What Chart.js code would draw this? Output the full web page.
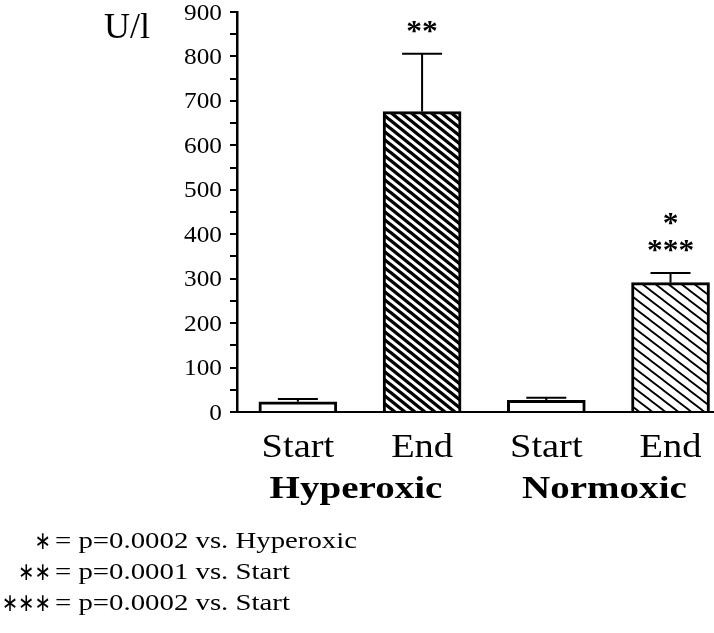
<!DOCTYPE html>
<html>
<head>
<meta charset="utf-8">
<script src="https://cdn.jsdelivr.net/npm/chart.js@4"></script>
<style>
  body { margin: 0; background: #fff; }
  canvas { display: block; }
</style>
</head>
<body>
<canvas id="grafico" width="714" height="633"></canvas>
<script>
// data
const categorias = ['Start', 'End', 'Start', 'End'];
const grupos = ['Hyperoxic', 'Normoxic'];
const medias = [23, 676, 26, 291];
const erros = [6, 130, 6, 22];
const estrelasBaixo = ['', '**', '', '***'];
const estrelasCima = ['', '', '', '*'];
const yTicks = [0, 100, 200, 300, 400, 500, 600, 700, 800, 900];
const notaMarcas = ['\u2217', '\u2217\u2217', '\u2217\u2217\u2217'];
const notaTextos = ['= p=0.0002 vs. Hyperoxic', '= p=0.0001 vs. Start', '= p=0.0002 vs. Start'];

const SERIF = '"Liberation Serif", "Times New Roman", serif';

// diagonal stripes, top-left to bottom-right
function hachura(w, h, largura) {
    const c = document.createElement('canvas');
    c.width = w; c.height = h;
    const g = c.getContext('2d');
    g.fillStyle = '#fff';
    g.fillRect(0, 0, w, h);
    g.strokeStyle = '#000';
    g.lineWidth = largura;
    g.beginPath();
    for (let k = -1; k <= 1; k++) {
        g.moveTo(k * w - w, -h);
        g.lineTo(k * w + 2 * w, 2 * h);
    }
    g.stroke();
    return g.createPattern(c, 'repeat');
}

const ctx = document.getElementById('grafico').getContext('2d');
const fundos = ['#fff', hachura(10, 8, 3.3), '#fff', hachura(13, 10, 1.8)];

function texto(c, s, x, y, fonte, alinhar, sx) {
    c.save();
    c.font = fonte;
    c.fillStyle = '#000';
    c.textBaseline = 'alphabetic';
    c.textAlign = alinhar;
    c.translate(x, y);
    c.scale(sx, 1);
    c.fillText(s, 0, 0);
    c.restore();
}

const extras = {
    id: 'extras',
    afterDatasetsDraw(chart) {
        const c = chart.ctx;
        const ys = chart.scales.y;
        const barras = chart.getDatasetMeta(0).data;
        c.save();
        c.strokeStyle = '#000';
        c.lineWidth = 2;
        barras.forEach((b, i) => {
            const topo = ys.getPixelForValue(medias[i] + erros[i]);
            c.beginPath();
            c.moveTo(b.x, b.y);
            c.lineTo(b.x, topo);
            c.moveTo(b.x - 20, topo);
            c.lineTo(b.x + 20, topo);
            c.stroke();
            const fs = 'bold 30px ' + SERIF;
            if (estrelasBaixo[i]) texto(c, estrelasBaixo[i], b.x, topo - 14, fs, 'center', 1.05);
            if (estrelasCima[i]) texto(c, estrelasCima[i], b.x, topo - 41, fs, 'center', 1.05);
        });
        c.restore();
    },
    afterDraw(chart) {
        const c = chart.ctx;
        const ys = chart.scales.y;
        const barras = chart.getDatasetMeta(0).data;
        // y tick labels
        yTicks.forEach(v => {
            texto(c, String(v), 222, ys.getPixelForValue(v) + 7.5, '23px ' + SERIF, 'right', 1.1);
        });
        texto(c, 'U/l', 104, 38, '36px ' + SERIF, 'left', 1);
        // category labels
        barras.forEach((b, i) => {
            texto(c, categorias[i], b.x, 457, '34px ' + SERIF, 'center', 1.13);
        });
        grupos.forEach((g, j) => {
            const xm = (barras[2 * j].x + barras[2 * j + 1].x) / 2;
            texto(c, g, xm - 4, 498, 'bold 32px ' + SERIF, 'center', 1.22);
        });
        // footnotes
        notaTextos.forEach((t, k) => {
            const yb = 548 + k * 31;
            texto(c, notaMarcas[k], 51, yb + 1, '25px "DejaVu Sans", sans-serif', 'right', 0.78);
            texto(c, t, 55, yb, '24px ' + SERIF, 'left', 1.2);
        });
    }
};

const grafico = new Chart(ctx, {
    type: 'bar',
    data: {
        datasets: [{
            data: medias.map((v, i) => ({ x: i, y: v })),
            backgroundColor: fundos,
            borderColor: '#000',
            borderWidth: 3,
            barThickness: 78
        }]
    },
    options: {
        responsive: false,
        animation: false,
        layout: { padding: { top: 12, right: 0, left: 0, bottom: 0 } },
        plugins: { legend: { display: false }, tooltip: { enabled: false } },
        scales: {
            x: {
                type: 'linear',
                offset: false,
                min: -0.49,
                max: 3.35,
                grid: { display: false },
                ticks: { display: false },
                border: { display: true, color: '#000', width: 2 },
                afterFit: s => { s.height = 221; }
            },
            y: {
                min: 0,
                max: 900,
                ticks: { display: false, stepSize: 50 },
                grid: { drawOnChartArea: false, drawTicks: true, tickLength: 7, color: '#000', lineWidth: 2 },
                border: { display: true, color: '#000', width: 2.5 },
                afterFit: s => { s.width = 237; }
            }
        }
    },
    plugins: [extras]
});
</script>
</body>
</html>
